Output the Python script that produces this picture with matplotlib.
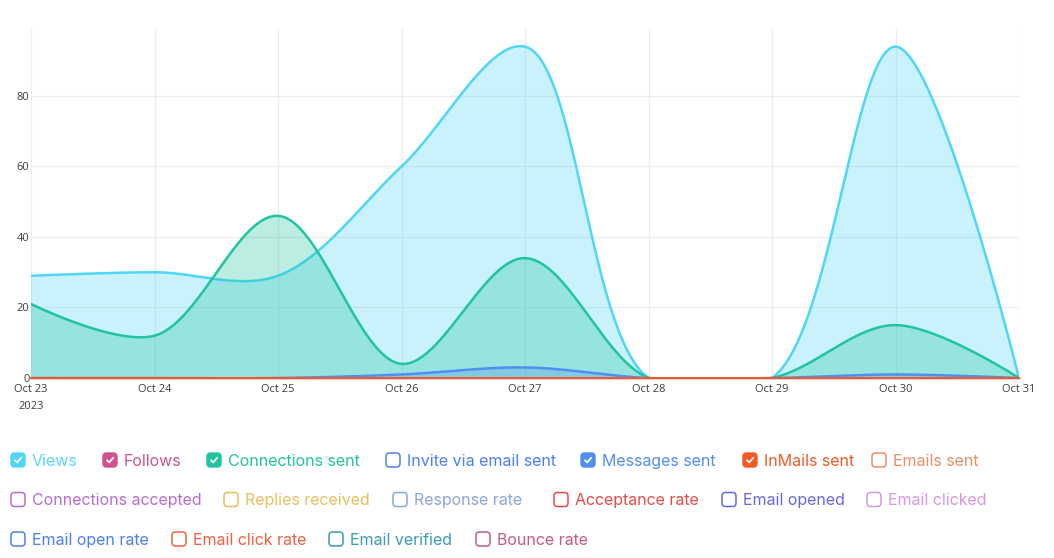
import numpy as np
import matplotlib
matplotlib.use("Agg")
import matplotlib.pyplot as plt
from matplotlib.patches import FancyBboxPatch, Polygon

# ---------------- data ----------------
dates = ["Oct 23", "Oct 24", "Oct 25", "Oct 26", "Oct 27", "Oct 28", "Oct 29", "Oct 30", "Oct 31"]
year_label = "2023"
views = [29, 30, 29, 60, 94, 0, 0, 94, 0]
follows = [0, 0, 0, 0, 0, 0, 0, 0, 0]
connections_sent = [21, 12, 46, 4, 34, 0, 0, 15, 0]
messages_sent = [0, 0, 0, 1, 3, 0, 0, 1, 0]
inmails_sent = [0, 0, 0, 0, 0, 0, 0, 0, 0]
y_ticks = [0, 20, 40, 60, 80]

legend_rows = [
    ["Views", "Follows", "Connections sent", "Invite via email sent", "Messages sent", "InMails sent", "Emails sent"],
    ["Connections accepted", "Replies received", "Response rate", "Acceptance rate", "Email opened", "Email clicked"],
    ["Email open rate", "Email click rate", "Email verified", "Bounce rate"],
]
legend_checked = {"Views", "Follows", "Connections sent", "Messages sent", "InMails sent"}

colors = {
    "Views": "#4fd6f8",
    "Follows": "#d0528a",
    "Connections sent": "#21c4a0",
    "Invite via email sent": "#4a80f0",
    "Messages sent": "#4f8ff0",
    "InMails sent": "#f15a27",
    "Emails sent": "#e88f66",
    "Connections accepted": "#b76dcd",
    "Replies received": "#e9bf5c",
    "Response rate": "#8ba6d8",
    "Acceptance rate": "#e84a4a",
    "Email opened": "#6767e0",
    "Email clicked": "#d597dd",
    "Email open rate": "#4a80f0",
    "Email click rate": "#f06040",
    "Email verified": "#3a9ab8",
    "Bounce rate": "#c8588a",
}
legend_text_colors = dict(colors)
legend_text_colors["Views"] = "#5dd3fa"


def catmull_rom_display(P, alpha=0.5, n=40):
    """Centripetal Catmull-Rom (d3.curveCatmullRom) through display-space points P."""
    P = np.asarray(P, float)
    N = len(P)
    eps = 1e-12
    out = [P[0:1]]
    for i in range(N - 1):
        p0 = P[i - 1] if i > 0 else P[i]
        p1 = P[i]
        p2 = P[i + 1]
        p3 = P[i + 2] if i + 2 < N else P[i + 1]
        l01 = np.hypot(*(p1 - p0))
        l12 = np.hypot(*(p2 - p1))
        l23 = np.hypot(*(p3 - p2))
        l01a, l12a, l23a = l01**alpha, l12**alpha, l23**alpha
        l01_2a, l12_2a, l23_2a = l01**(2 * alpha), l12**(2 * alpha), l23**(2 * alpha)
        c1 = p1.copy()
        c2 = p2.copy()
        if l01a > eps:
            a = 2 * l01_2a + 3 * l01a * l12a + l12_2a
            nn = 3 * l01a * (l01a + l12a)
            c1 = (p1 * a - p0 * l12_2a + p2 * l01_2a) / nn
        if l23a > eps:
            b = 2 * l23_2a + 3 * l23a * l12a + l12_2a
            m = 3 * l23a * (l23a + l12a)
            c2 = (p2 * b + p1 * l23_2a - p3 * l12_2a) / m
        t = np.linspace(0, 1, n)[1:, None]
        seg = ((1 - t)**3) * p1 + 3 * ((1 - t)**2) * t * c1 + 3 * (1 - t) * t**2 * c2 + t**3 * p2
        out.append(seg)
    return np.vstack(out)


W, H = 1054, 558
fig = plt.figure(figsize=(W / 100, H / 100), dpi=100)
left, right, top, bottom = 31, 1019, 29, 378
ax = fig.add_axes([left / W, 1 - bottom / H, (right - left) / W, (bottom - top) / H])

x_idx = np.arange(len(dates))
ax.set_xlim(0, len(dates) - 1)
ax.set_ylim(0, 99)

grid_c = "#ececec"
for xi in x_idx:
    ax.axvline(xi, color=grid_c, lw=0.9, zorder=0)
for yt in y_ticks:
    ax.axhline(yt, color=grid_c, lw=0.9, zorder=0)

series = [
    ("Views", views),
    ("Follows", follows),
    ("Connections sent", connections_sent),
    ("Messages sent", messages_sent),
    ("InMails sent", inmails_sent),
]
inv = ax.transData.inverted()
for z, (name, vals) in enumerate(series):
    pts_disp = ax.transData.transform(np.column_stack([x_idx, vals]))
    curve = inv.transform(catmull_rom_display(pts_disp))
    xs, ys = curve[:, 0], curve[:, 1]
    c = colors[name]
    poly = np.vstack([curve, [[xs[-1], 0], [xs[0], 0]]])
    ax.add_patch(Polygon(poly, closed=True, fc=c, alpha=0.3, lw=0, zorder=2 + z))
    ax.plot(xs, ys, color=c, lw=1.8, zorder=3 + z, solid_capstyle="round")

# axis baseline
ax.axhline(0, color="#333333", lw=1.0, zorder=19, clip_on=False)
ax.axhline(0, color=colors["InMails sent"], lw=1.4, zorder=20, clip_on=False)

for s in ax.spines.values():
    s.set_visible(False)
ax.set_xticks(x_idx)
ax.set_xticklabels(dates)
ax.set_yticks(y_ticks)
ax.set_yticklabels([str(v) for v in y_ticks])
ax.tick_params(axis="both", length=0, labelsize=8, labelcolor="#373d3f")
ax.tick_params(axis="x", pad=4)
ax.tick_params(axis="y", pad=1)
for lab in ax.get_xticklabels() + ax.get_yticklabels():
    lab.set_fontfamily("Open Sans")

# year label under first date
ax.text(0, -0.066, year_label, transform=ax.get_xaxis_transform(), ha="center", va="top",
        fontsize=8, color="#373d3f", family="Open Sans")

# ---------------- legend (pixel overlay) ----------------
ov = fig.add_axes([0, 0, 1, 1])
ov.set_xlim(0, W)
ov.set_ylim(H, 0)
ov.axis("off")

row_y = [460, 499.5, 539]
row_x = [
    [10, 102, 206, 385, 580, 742, 871],
    [10, 223, 392, 553, 721, 866],
    [10, 171, 328, 475],
]
bs = 15
for r, names in enumerate(legend_rows):
    cy = row_y[r]
    for name, x0 in zip(names, row_x[r]):
        c = colors[name]
        checked = name in legend_checked
        if checked:
            box = FancyBboxPatch((x0 + 1, cy - bs / 2 + 0.5), bs - 1, bs - 1,
                                 boxstyle="round,pad=0,rounding_size=3.5",
                                 fc=c, ec=c, lw=1.0)
            ov.add_patch(box)
            cx = x0 + bs / 2 + 0.5
            ov.plot([cx - 3.0, cx - 0.8, cx + 3.2], [cy + 0.3, cy + 2.4, cy - 2.2],
                    color="white", lw=1.3, solid_capstyle="round", solid_joinstyle="round")
        else:
            box = FancyBboxPatch((x0 + 1, cy - bs / 2 + 0.5), bs - 1, bs - 1,
                                 boxstyle="round,pad=0,rounding_size=3.5",
                                 fc="white", ec=c, lw=1.1)
            ov.add_patch(box)
        ov.text(x0 + 22, cy + 5.6, name, color=legend_text_colors[name], fontsize=11.5,
                family="Inter", va="baseline", ha="left")

fig.savefig("out.png", dpi=100)
